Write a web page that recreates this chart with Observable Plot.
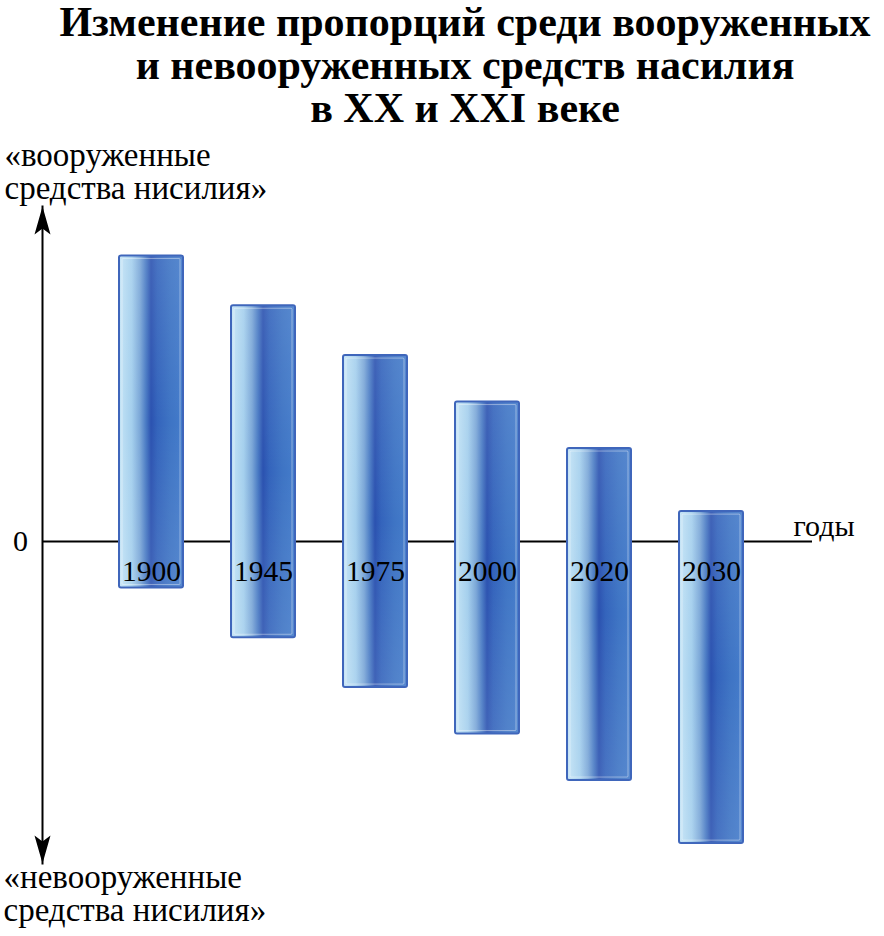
<!DOCTYPE html>
<html><head><meta charset="utf-8">
<script src="https://cdn.jsdelivr.net/npm/d3@7"></script>
<script src="https://cdn.jsdelivr.net/npm/@observablehq/plot@0.6"></script>
<style>
body{margin:0;background:#fff;}
#title{font:bold 42px "Liberation Serif","Times New Roman",serif;line-height:43px;text-align:center;padding-left:46px;padding-top:1px;height:135px;box-sizing:border-box;width:884px;color:#000;white-space:nowrap;}
</style></head><body>
<div id="title">Изменение пропорций среди вооруженных<br>и невооруженных средств насилия<br>в XX и XXI веке</div>
<div id="chart"></div>
<script>
const years = ["1900", "1945", "1975", "2000", "2020", "2030"];
const armed = [86, 71, 56, 42, 28, 9];
const unarmed = [14, 29, 44, 58, 72, 91];
const axisLabelTop = "«вооруженные\nсредства нисилия»";
const axisLabelBottom = "«невооруженные\nсредства нисилия»";
const xAxisLabel = "годы";
const zeroLabel = "0";

const data = years.map((year, i) => ({year, armed: armed[i], unarmed: unarmed[i]}));

const arrowSymbol = {
  draw(ctx) {
    ctx.moveTo(0, 0);
    ctx.lineTo(8, 28);
    ctx.lineTo(0, 22);
    ctx.lineTo(-8, 28);
    ctx.closePath();
  }
};

const defs = () => {
  const d = d3.create("svg:defs");
  const g = d.append("linearGradient").attr("id", "barGrad")
    .attr("x1", 0).attr("x2", 1).attr("y1", 0).attr("y2", 0);
  [[0, "#c4e4f6"], [0.2, "#a4cfed"], [0.33, "#7aa6d7"], [0.42, "#4a7bc4"],
   [0.5, "#2b52b0"], [0.6, "#3464bc"], [0.8, "#3e74c4"], [1, "#447ccb"]]
    .forEach(([o, c]) => g.append("stop").attr("offset", o).attr("stop-color", c));
  const v = d.append("linearGradient").attr("id", "barShade")
    .attr("x1", 0).attr("x2", 0).attr("y1", 0).attr("y2", 1);
  [[0, 0.1], [0.5, 0], [1, 0.1]]
    .forEach(([o, a]) => v.append("stop").attr("offset", o).attr("stop-color", "#ffffff").attr("stop-opacity", a));
  return d.node();
};

const chart = Plot.plot({
  width: 884,
  height: 801,
  marginLeft: 42,
  marginRight: 72,
  marginTop: 71,
  marginBottom: 73,
  x: {type: "band", domain: years, range: [118, 743], paddingInner: 0.43, paddingOuter: 0, axis: null},
  y: {domain: [-100, 100], range: [738, 74], axis: null},
  style: {fontFamily: "'Liberation Serif', 'Times New Roman', serif", background: "white", color: "black"},
  marks: [
    defs,
    Plot.frame({anchor: "left", stroke: "black", strokeWidth: 2}),
    Plot.ruleY([0], {stroke: "black", strokeWidth: 2}),
    Plot.dot([axisLabelTop], {frameAnchor: "top-left", symbol: arrowSymbol, fill: "black", stroke: null}),
    Plot.dot([axisLabelBottom], {frameAnchor: "bottom-left", symbol: arrowSymbol, rotate: 180, fill: "black", stroke: null}),
    Plot.barY(data, {x: "year", y1: d => -d.unarmed, y2: "armed", fill: "url(#barGrad)", stroke: "#3f66bb", strokeWidth: 2, rx: 2}),
    Plot.barY(data, {x: "year", y1: d => -d.unarmed, y2: "armed", fill: "url(#barShade)", inset: 1}),
    Plot.barY(data, {x: "year", y1: d => -d.unarmed, y2: "armed", inset: 3, fill: "none", stroke: "white", strokeOpacity: 0.4, strokeWidth: 1, rx: 1}),
    Plot.text(data, {x: "year", y: () => 0, text: "year", lineAnchor: "bottom", dy: 39, fontSize: 29.5, fill: "black"}),
    Plot.text([zeroLabel], {y: () => 0, text: d => d, frameAnchor: "left", dx: -22, textAnchor: "middle", lineAnchor: "middle", fontSize: 30, fill: "black"}),
    Plot.text([xAxisLabel], {y: () => 0, text: d => d, frameAnchor: "right", dx: -19, textAnchor: "start", lineAnchor: "bottom", dy: -6, fontSize: 30, fill: "black"}),
    Plot.text([axisLabelTop], {text: d => d, frameAnchor: "top-left", dx: -38, dy: -8, textAnchor: "start", lineAnchor: "bottom", lineHeight: 1.0, fontSize: 33, fill: "black"}),
    Plot.text([axisLabelBottom], {text: d => d, frameAnchor: "bottom-left", dx: -39, dy: 57, textAnchor: "start", lineAnchor: "bottom", lineHeight: 1.0, fontSize: 33, fill: "black"})
  ]
});
document.getElementById("chart").appendChild(chart);
</script>
</body></html>
